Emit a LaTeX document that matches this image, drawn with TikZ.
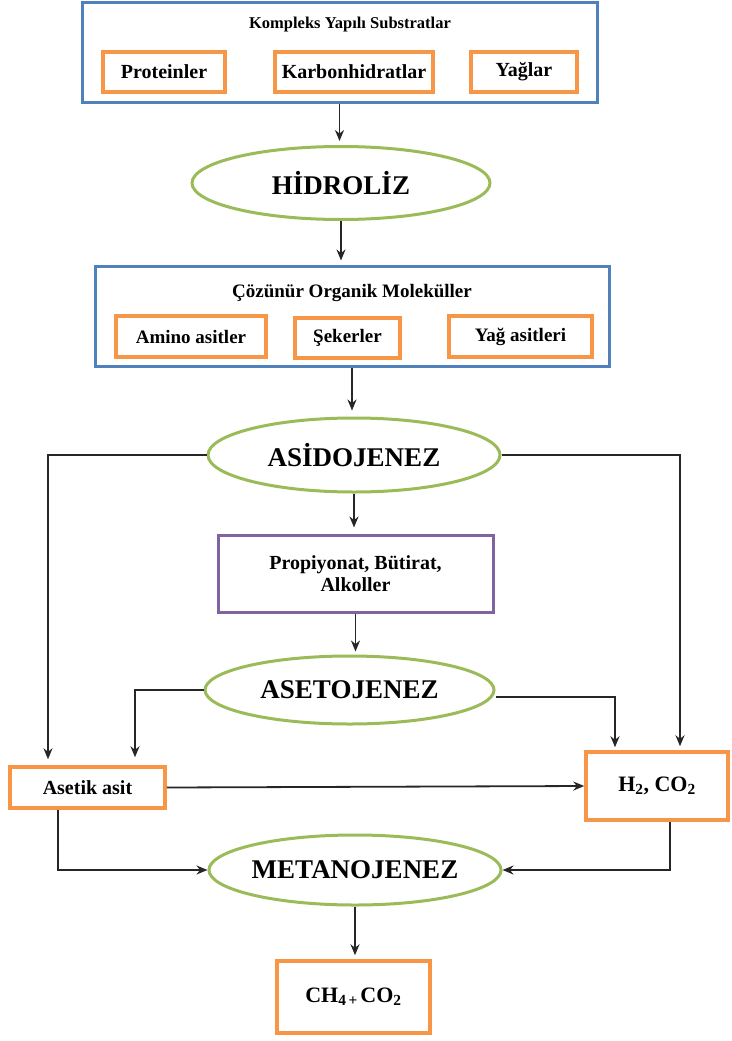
\documentclass[tikz,border=0pt]{standalone}
\usepackage{fontspec}
\setmainfont{Liberation Serif}
\usetikzlibrary{shapes.geometric,arrows.meta}
\definecolor{kutumavi}{RGB}{79,129,189}
\definecolor{kututuruncu}{RGB}{247,150,70}
\definecolor{elipsyesil}{RGB}{155,187,89}
\definecolor{kutumor}{RGB}{128,100,162}

\begin{document}
\begin{tikzpicture}[x=1pt,y=-1pt,
    buyukkutu/.style={draw=kutumavi,line width=3pt,inner sep=0pt},
    kutu/.style={draw=kututuruncu,line width=3.5pt,inner sep=0pt,font=\fontsize{19}{22}\selectfont\bfseries},
    morkutu/.style={draw=kutumor,line width=3pt,inner sep=0pt,align=center,font=\fontsize{20}{22}\selectfont\bfseries},
    evre/.style={ellipse,draw=elipsyesil,line width=3pt,inner sep=0pt,font=\fontsize{27}{30}\selectfont\bfseries},
    baslik/.style={font=\fontsize{16.5}{19}\selectfont\bfseries},
    ok/.style={-{Stealth[length=11pt,width=9pt]},line width=1.8pt,black!85}]
    \useasboundingbox (0,0) rectangle (731,1041);
    % kompleks substratlar
    \node[buyukkutu,minimum width=515pt,minimum height=99pt] (kompleks) at (339.5,52.5) {};
    \node[baslik] (kompleksbaslik) at (350,25) {Kompleks Yapılı Substratlar};
    \node[kutu,minimum width=122pt,minimum height=40pt,font=\fontsize{20}{22}\selectfont\bfseries] (protein) at (164,72) {Proteinler};
    \node[kutu,minimum width=158pt,minimum height=40pt,font=\fontsize{20}{22}\selectfont\bfseries] (karbon) at (354,72) {Karbonhidratlar};
    \node[kutu,minimum width=106pt,minimum height=40pt,font=\fontsize{20}{22}\selectfont\bfseries] (yag) at (524,72) {Yağlar};
    \node[evre,minimum width=298pt,minimum height=73pt] (hidroliz) at (341,183) {HİDROLİZ};
    % cozunur molekuller
    \node[buyukkutu,minimum width=514pt,minimum height=100pt] (cozunur) at (352,316) {};
    \node[baslik,font=\fontsize{19}{22}\selectfont\bfseries] (cozunurbaslik) at (352,293) {Çözünür Organik Moleküller};
    \node[kutu,minimum width=150pt,minimum height=41pt] (amino) at (191,336.5) {Amino asitler};
    \node[kutu,minimum width=105pt,minimum height=40pt] (seker) at (347.5,338) {Şekerler};
    \node[kutu,minimum width=143pt,minimum height=41pt] (yagasit) at (520.5,336.5) {Yağ asitleri};
    \node[evre,minimum width=292pt,minimum height=74pt] (asido) at (354,455) {ASİDOJENEZ};
    \node[morkutu,minimum width=275pt,minimum height=77pt] (ara) at (355.5,573.5) {Propiyonat, Bütirat,\\Alkoller};
    \node[evre,minimum width=289pt,minimum height=68pt] (aseto) at (349.5,690) {ASETOJENEZ};
    \node[kutu,minimum width=155pt,minimum height=41pt,font=\fontsize{20}{22}\selectfont\bfseries] (asetik) at (87.5,787.5) {Asetik asit};
    \node[kutu,minimum width=142pt,minimum height=68pt,font=\fontsize{22}{24}\selectfont\bfseries] (hidrojen) at (657,786) {H\textsubscript{2}, CO\textsubscript{2}};
    \node[evre,minimum width=290pt,minimum height=70pt] (metano) at (355,870) {METANOJENEZ};
    \node[kutu,minimum width=153pt,minimum height=72pt,font=\fontsize{22}{24}\selectfont\bfseries] (metan) at (353.5,997) {CH\textsubscript{4\,+\,}CO\textsubscript{2}};
    % oklar
    \draw[ok,shorten >=4pt] (kompleks.south) -- (kompleks.south |- hidroliz.north);
    \draw[ok,shorten >=4pt] (hidroliz.south) -- (hidroliz.south |- cozunur.north);
    \draw[ok,shorten >=6pt] (cozunur.south) -- (cozunur.south |- asido.north);
    \draw[ok,shorten >=6pt] (asido.south) -- (asido.south |- ara.north);
    \draw[ok,shorten >=3pt] (ara.south) -- (ara.south |- aseto.north);
    \draw[ok,shorten >=6pt] (asido.west) -| ([xshift=-39.5pt]asetik.north);
    \draw[ok,shorten >=4pt] (asido.east) -| ([xshift=23pt]hidrojen.north);
    \draw[ok,shorten >=8pt] (aseto.west) -| ([xshift=47.5pt]asetik.north);
    \draw[ok,shorten >=3pt] ([yshift=-7pt]aseto.east) -| ([xshift=-42pt]hidrojen.north);
    \draw[ok] (asetik.east) -- (hidrojen.west);
    \draw[ok] ([xshift=-29.5pt]asetik.south) |- (metano.west);
    \draw[ok] ([xshift=13pt]hidrojen.south) |- (metano.east);
    \draw[ok,shorten >=4pt] (metano.south) -- (metano.south |- metan.north);
\end{tikzpicture}
\end{document}
